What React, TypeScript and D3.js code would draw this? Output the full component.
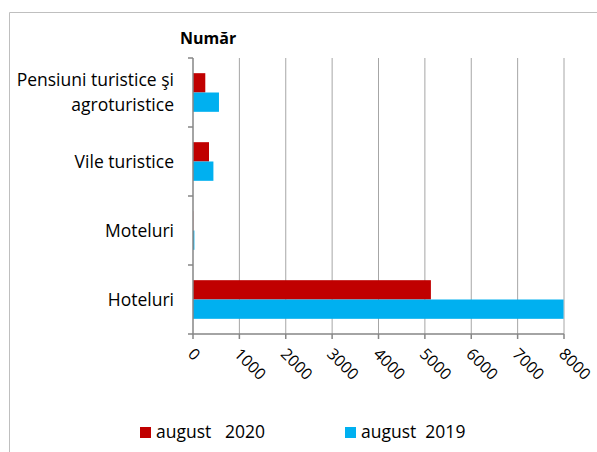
import React from "react";
import * as d3 from "d3";

const categories = ["Pensiuni turistice şi\nagroturistice", "Vile turistice", "Moteluri", "Hoteluri"];
const values2020 = [265, 345, 5, 5130];
const values2019 = [560, 440, 30, 7990];
const xTicks = [0, 1000, 2000, 3000, 4000, 5000, 6000, 7000, 8000];
const seriesNames = ["august   2020", "august  2019"];
const colors = ["#C00000", "#00B0F0"];
const axisTitle = "Număr";

const W = 597, H = 452;
const font = "'Open Sans', sans-serif";

export default function App() {
  const left = 193, right = 564, top = 58, bottom = 334;
  const x = d3.scaleLinear().domain([0, 8000]).range([left, right]);
  const y = d3.scaleBand().domain(categories).range([top, bottom]);
  const bw = y.bandwidth();
  const barH = bw * 0.28;
  const series = [values2020, values2019];
  return (
    <div style={{ position: "absolute", left: 0, top: 0 }}>
      <svg width={W} height={H} style={{ display: "block" }}>
        <rect x={0} y={0} width={W} height={H} fill="#fff" />
        <path d={`M9.5,${H} V12.5 H${W}`} fill="none" stroke="#BFBFBF" strokeWidth={1} />
        <text x={180} y={44} fontFamily={font} fontWeight="bold" fontSize={16} fill="#000">{axisTitle}</text>
        {xTicks.slice(1).map((t) => (
          <line key={t} x1={x(t)} x2={x(t)} y1={top} y2={bottom} stroke="#A6A6A6" strokeWidth={1} />
        ))}
        {categories.map((c, ci) => {
          const cy = (y(c) as number) + bw / 2;
          return series.map((s, si) => (
            <rect key={c + si} x={x(0)} y={cy - barH + si * barH} width={x(s[ci]) - x(0)} height={barH} fill={colors[si]} />
          ));
        })}
        <line x1={left} x2={right} y1={bottom} y2={bottom} stroke="#868686" strokeWidth={1.5} />
        <line x1={left} x2={left} y1={top} y2={bottom} stroke="#868686" strokeWidth={1.5} />
        {xTicks.map((t) => (
          <line key={"t" + t} x1={x(t)} x2={x(t)} y1={bottom} y2={bottom + 5} stroke="#868686" strokeWidth={1.5} />
        ))}
        {[...categories.map((c) => y(c) as number), bottom].map((v, i) => (
          <line key={"c" + i} x1={left - 5} x2={left} y1={v} y2={v} stroke="#868686" strokeWidth={1.5} />
        ))}
        {xTicks.map((t) => (
          <text key={"l" + t} transform={`translate(${x(t) - 3},${352}) rotate(45)`} fontFamily={font} fontSize={16} fill="#000" dominantBaseline="middle">{t}</text>
        ))}
        {categories.map((c) => {
          const cy = (y(c) as number) + bw / 2;
          const lines = c.split("\n");
          return (
            <text key={"cl" + c} textAnchor="end" fontFamily={font} fontSize={17.5} fill="#000">
              {lines.map((ln, i) => (
                <tspan key={i} x={174} y={cy + 6 + (i - (lines.length - 1) / 2) * 25}>{ln}</tspan>
              ))}
            </text>
          );
        })}
        {seriesNames.map((n, i) => {
          const lx = [140, 345][i];
          return (
            <g key={n}>
              <rect x={lx} y={427} width={11} height={11} fill={colors[i]} />
              <text x={lx + 16} y={438} fontFamily={font} fontSize={17.5} fill="#000" style={{ whiteSpace: "pre" }} xmlSpace="preserve">{n}</text>
            </g>
          );
        })}
      </svg>
    </div>
  );
}
